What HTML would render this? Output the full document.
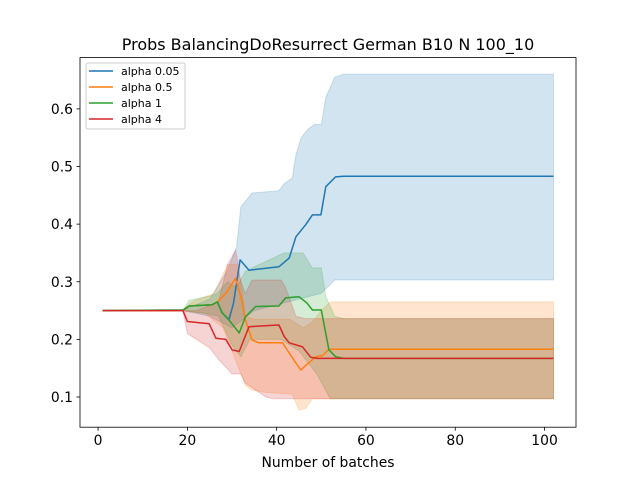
<!DOCTYPE html>
<html><head><meta charset="utf-8"><style>
body{margin:0;background:#fff}
svg{font-family:"DejaVu Sans","Liberation Sans",sans-serif}
</style></head><body>
<svg id="chart" width="640" height="480" viewBox="0 0 640 480">
<rect width="640" height="480" fill="#fff"/>
<g id="bands"></g>
<g id="lines"></g>
<g id="axes"></g>
<text x="328" y="50" font-size="16" text-anchor="middle" fill="#000">Probs BalancingDoResurrect German B10 N 100_10</text>
<text x="328" y="467" font-size="13.9" text-anchor="middle" fill="#000">Number of batches</text>
<g>
<rect x="86" y="63" width="99" height="66" rx="2" fill="#fff" fill-opacity="0.8" stroke="#ccc"/>
<g><line x1="89" y1="71" x2="113" y2="71" stroke="#1f77b4" stroke-width="1.5"/><text x="121" y="75" font-size="11">alpha 0.05</text></g>
<g><line x1="89" y1="87" x2="113" y2="87" stroke="#ff7f0e" stroke-width="1.5"/><text x="121" y="91" font-size="11">alpha 0.5</text></g>
<g><line x1="89" y1="103" x2="113" y2="103" stroke="#2ca02c" stroke-width="1.5"/><text x="121" y="107" font-size="11">alpha 1</text></g>
<g><line x1="89" y1="119" x2="113" y2="119" stroke="#d62728" stroke-width="1.5"/><text x="121" y="123" font-size="11">alpha 4</text></g>
</g>
</svg>
<script>
const xTicks=[0,20,40,60,80,100];
const yTicks=[0.1,0.2,0.3,0.4,0.5,0.6];
const seriesNames=["alpha 0.05","alpha 0.5","alpha 1","alpha 4"];
const seriesColors=["#1f77b4","#ff7f0e","#2ca02c","#d62728"];
const blueMean=[[1,0.25],[19,0.251],[20.4,0.258],[25.5,0.26],[26.7,0.265],[27.8,0.246],[29.3,0.234],[30.3,0.262],[31.8,0.338],[33.8,0.32],[40.5,0.326],[42.8,0.341],[44.3,0.378],[46.5,0.399],[48,0.416],[49.9,0.416],[51,0.465],[53.2,0.482],[55,0.483],[102,0.483]];
const blueUpper=[[1,0.25],[19,0.25],[25,0.27],[29,0.32],[31,0.36],[32,0.43],[34.5,0.454],[40.5,0.458],[41.7,0.47],[43.5,0.48],[44.3,0.52],[45.5,0.55],[47,0.565],[48.5,0.573],[50,0.573],[51,0.62],[53,0.655],[55,0.66],[102,0.66]];
const blueLower=[[1,0.25],[19,0.25],[25,0.24],[30,0.22],[35,0.25],[45,0.27],[50,0.28],[53,0.303],[102,0.303]];
const orangeMean=[[1,0.25],[19,0.25],[20.4,0.258],[25.5,0.26],[26.7,0.265],[28.6,0.28],[30.8,0.306],[32,0.274],[33,0.234],[34.5,0.199],[36,0.194],[41.3,0.194],[44.3,0.159],[45.4,0.147],[47.3,0.16],[48.8,0.17],[50.3,0.172],[51.7,0.183],[102,0.183]];
const orangeUpper=[[1,0.25],[19,0.25],[21,0.265],[26,0.28],[29,0.33],[31,0.33],[32,0.3],[33,0.24],[35,0.235],[43,0.235],[46,0.22],[48,0.23],[50,0.25],[52,0.265],[102,0.265]];
const orangeLower=[[1,0.25],[19,0.25],[24,0.245],[28,0.22],[31,0.16],[33,0.12],[34.5,0.112],[37.6,0.108],[43.5,0.105],[45,0.077],[46.5,0.08],[48,0.097],[102,0.097]];
const greenMean=[[1,0.25],[19,0.251],[20.4,0.258],[25.5,0.26],[26.7,0.265],[27.8,0.246],[29.3,0.234],[31.6,0.211],[33,0.239],[35.3,0.257],[40.5,0.258],[42,0.272],[45,0.274],[46.8,0.263],[48,0.251],[50,0.251],[51.7,0.182],[53.2,0.17],[55,0.167],[102,0.167]];
const greenUpper=[[1,0.25],[19,0.25],[20.4,0.268],[25.5,0.276],[26.7,0.28],[29,0.3],[31,0.29],[33,0.318],[35,0.326],[41.7,0.35],[45.9,0.35],[48,0.324],[50,0.324],[51,0.274],[53,0.24],[55,0.236],[102,0.236]];
const greenLower=[[1,0.25],[19,0.25],[24,0.245],[27,0.24],[30,0.19],[32,0.17],[34,0.2],[41,0.2],[45,0.18],[49,0.14],[52,0.097],[102,0.097]];
const redMean=[[1,0.25],[19,0.25],[20,0.231],[24.9,0.227],[26.4,0.202],[28.6,0.2],[30,0.182],[31.6,0.179],[33.8,0.222],[40.5,0.225],[41.7,0.205],[42.8,0.194],[45.8,0.187],[47.6,0.169],[49,0.167],[102,0.167]];
const redUpper=[[1,0.25],[19,0.25],[22,0.25],[27,0.265],[29,0.33],[30.8,0.355],[32,0.3],[33,0.28],[34.5,0.303],[41,0.303],[42,0.29],[44.3,0.24],[46.5,0.236],[102,0.236]];
const redLower=[[1,0.25],[19,0.25],[20,0.21],[25,0.185],[27,0.165],[30,0.14],[32,0.14],[33,0.124],[37.6,0.1],[39,0.097],[102,0.097]];

const X0=80,X1=576,Y0=57.6,Y1=427.2,xMin=-4.05,xMax=107.05,yMin=0.0476,yMax=0.689;
function sx(v){return X0+(v-xMin)/(xMax-xMin)*(X1-X0);}
function sy(v){return Y1-(v-yMin)/(yMax-yMin)*(Y1-Y0);}
const NS="http://www.w3.org/2000/svg";
const bands=document.getElementById('bands'),lines=document.getElementById('lines'),axes=document.getElementById('axes');
const allUpper=[blueUpper,orangeUpper,greenUpper,redUpper];
const allLower=[blueLower,orangeLower,greenLower,redLower];
const allMean=[blueMean,orangeMean,greenMean,redMean];
for(let i=0;i<4;i++){
  const up=allUpper[i].map(p=>sx(p[0]).toFixed(1)+','+sy(p[1]).toFixed(1));
  const lo=allLower[i].slice().reverse().map(p=>sx(p[0]).toFixed(1)+','+sy(p[1]).toFixed(1));
  const band=document.createElementNS(NS,'polygon');
  band.setAttribute('points',up.concat(lo).join(' '));
  band.setAttribute('fill',seriesColors[i]);
  band.setAttribute('fill-opacity','0.2');
  band.setAttribute('stroke',seriesColors[i]);
  band.setAttribute('stroke-opacity','0.2');
  
  
  bands.appendChild(band);
}
for(let i=0;i<4;i++){
  const pl=document.createElementNS(NS,'polyline');
  pl.setAttribute('points',allMean[i].map(p=>sx(p[0]).toFixed(1)+','+sy(p[1]).toFixed(1)).join(' '));
  pl.setAttribute('fill','none');
  pl.setAttribute('stroke',seriesColors[i]);
  pl.setAttribute('stroke-width','1.5');
  pl.setAttribute('stroke-linejoin','round');
  
  
  lines.appendChild(pl);
}
const frame=document.createElementNS(NS,'rect');
frame.setAttribute('x',X0);frame.setAttribute('y',Y0);frame.setAttribute('width',X1-X0);frame.setAttribute('height',Y1-Y0);
frame.setAttribute('fill','none');frame.setAttribute('stroke','#000');frame.setAttribute('stroke-width','0.8');


axes.appendChild(frame);
xTicks.forEach(t=>{
  const x=sx(t);
  const l=document.createElementNS(NS,'line');
  l.setAttribute('x1',x);l.setAttribute('x2',x);l.setAttribute('y1',Y1);l.setAttribute('y2',Y1+3.5);l.setAttribute('stroke','#000');l.setAttribute('stroke-width','0.8');
  
  
  axes.appendChild(l);
  const tx=document.createElementNS(NS,'text');
  tx.setAttribute('x',x);tx.setAttribute('y',Y1+18);tx.setAttribute('font-size','13.9');tx.setAttribute('text-anchor','middle');
  tx.textContent=String(t);
  
  
  axes.appendChild(tx);
});
yTicks.forEach(t=>{
  const y=sy(t);
  const l=document.createElementNS(NS,'line');
  l.setAttribute('x1',X0-3.5);l.setAttribute('x2',X0);l.setAttribute('y1',y);l.setAttribute('y2',y);l.setAttribute('stroke','#000');l.setAttribute('stroke-width','0.8');
  
  
  axes.appendChild(l);
  const tx=document.createElementNS(NS,'text');
  tx.setAttribute('x',X0-7);tx.setAttribute('y',y+5);tx.setAttribute('font-size','13.9');tx.setAttribute('text-anchor','end');
  tx.textContent=t.toFixed(1);
  
  
  axes.appendChild(tx);
});
</script>
</body></html>
